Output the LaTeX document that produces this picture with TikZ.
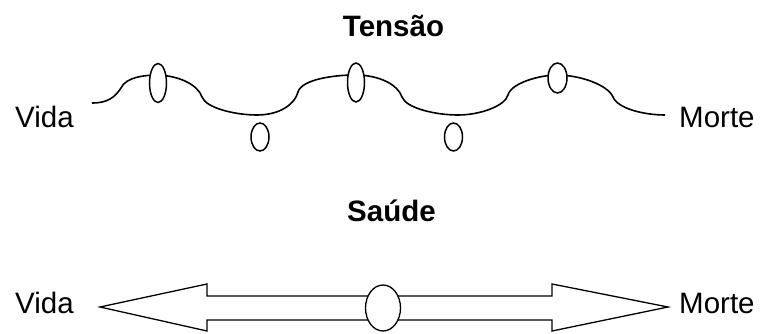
\documentclass[tikz,border=0pt]{standalone}
\usepackage{fontspec}
\setmainfont{Liberation Sans}
\usetikzlibrary{shapes.geometric}
\begin{document}
\begin{tikzpicture}[x=1pt,y=-1pt,
  lbl/.style={inner sep=0pt,font=\fontsize{29.5}{34}\selectfont},
  ttl/.style={inner sep=0pt,font=\fontsize{29.5}{34}\selectfont\bfseries},
  oval/.style={draw,ellipse,fill=white,inner sep=0pt,line width=1.5pt},
  wave/.style={line width=1.6pt},
  bigarrow/.style={line width=1.3pt,line join=miter}]
\useasboundingbox (0,0) rectangle (761,334);
% titles
\node[ttl,anchor=base] (t1) at (393.5,37) {Tensão};
\node[ttl,anchor=base] (t2) at (391.5,222) {Saúde};
% labels
\node[lbl,anchor=base west] (v1) at (15,128) {Vida};
\node[lbl,anchor=base west] (m1) at (679,128) {Morte};
\node[lbl,anchor=base west] (v2) at (15,313) {Vida};
\node[lbl,anchor=base west] (m2) at (679,313) {Morte};
% wavy line
\draw[wave] (92,103) .. controls (108,103) and (115,97) .. (121,88)
  .. controls (126,77) and (145,75) .. (158,75)
  .. controls (180,76) and (198,85) .. (202,97)
  .. controls (206,108) and (235,115) .. (257,115)
  .. controls (280,115) and (295,104) .. (298,92)
  .. controls (302,79) and (335,75) .. (355,75)
  .. controls (380,75) and (398,85) .. (402,97)
  .. controls (406,108) and (435,115) .. (458,115)
  .. controls (480,115) and (505,106) .. (508,95)
  .. controls (511,83) and (540,75) .. (557,75)
  .. controls (580,75) and (608,85) .. (613,97)
  .. controls (618,109) and (645,115) .. (665,115);
% ovals on the wave
\node[oval,minimum width=17pt,minimum height=39pt] (e1) at (158,83) {};
\node[oval,minimum width=17pt,minimum height=39pt] (e2) at (356,82.5) {};
\node[oval,minimum width=19pt,minimum height=30pt] (e3) at (557.5,78) {};
\node[oval,minimum width=18pt,minimum height=28pt] (s1) at (260,137) {};
\node[oval,minimum width=18pt,minimum height=28pt] (s2) at (453.5,137) {};
% double arrow
\draw[bigarrow] (100,307) -- (207,284) -- (207,296) -- (552,296) -- (552,284)
  -- (668,307) -- (552,331) -- (552,320) -- (207,320) -- (207,331) -- cycle;
\node[oval,line width=1.3pt,minimum width=35pt,minimum height=46pt] (c) at (383,308) {};
\end{tikzpicture}
\end{document}
